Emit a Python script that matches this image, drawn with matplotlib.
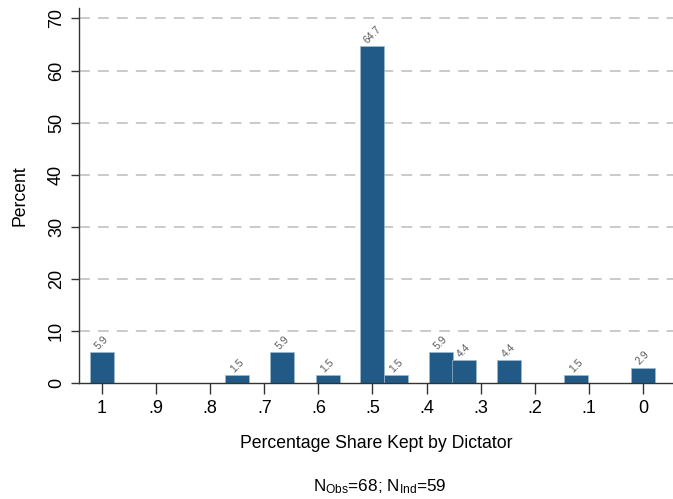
import matplotlib
matplotlib.use("Agg")
import matplotlib.pyplot as plt

plt.rcParams['font.family'] = ['Liberation Sans', 'DejaVu Sans']
plt.rcParams['mathtext.fontset'] = 'custom'
plt.rcParams['mathtext.rm'] = 'Liberation Sans'
plt.rcParams['mathtext.it'] = 'Liberation Sans'

# data
share_kept = [1.0, 0.75, 0.667, 0.583, 0.5, 0.456, 0.374, 0.331, 0.248, 0.124, 0.0]
percent = [5.9, 1.5, 5.9, 1.5, 64.7, 1.5, 5.9, 4.4, 4.4, 1.5, 2.9]
xticks = [1, 0.9, 0.8, 0.7, 0.6, 0.5, 0.4, 0.3, 0.2, 0.1, 0]
xticklabels = ['1', '.9', '.8', '.7', '.6', '.5', '.4', '.3', '.2', '.1', '0']
yticks = [0, 10, 20, 30, 40, 50, 60, 70]

bar_w = 0.0444
color = '#215a86'

fig = plt.figure(figsize=(6.73, 4.99), dpi=100)
ax = fig.add_axes([79/673, (499-383)/499, 1 - 79/673, (383-8)/499])

for g in yticks[1:]:
    ax.axhline(g, color='#c6c6c6', lw=1.3, ls=(0, (6, 4.5)), zorder=0)

ax.bar(share_kept, percent, width=bar_w, color=color, edgecolor='#9fb8cc',
       linewidth=0.5, zorder=2)
for x, v in zip(share_kept, percent):
    ax.text(x, v + 0.2, f'{v:.1f}', rotation=45, ha='center', va='bottom',
            fontsize=7.5, color='#5a5a5a', zorder=3)

ax.set_xlim(1.0426, -0.0556)
ax.set_ylim(0, 72)
ax.set_xticks(xticks)
ax.set_xticklabels(xticklabels, fontsize=13)
ax.set_yticks(yticks)
ax.set_yticklabels([str(y) for y in yticks], fontsize=13, rotation=90, va='center')
ax.tick_params(axis='x', length=8, width=1, color='#333333', pad=4)
ax.tick_params(axis='y', length=6, width=1, color='#333333', pad=4)

for s in ['top', 'right']:
    ax.spines[s].set_visible(False)
for s in ['left', 'bottom']:
    ax.spines[s].set_color('#333333')
    ax.spines[s].set_linewidth(1)

ax.set_ylabel('Percent', fontsize=12.7, labelpad=14)
ax.set_xlabel('Percentage Share Kept by Dictator', fontsize=12.7, labelpad=13)

fig.text(380/673, 1 - 487/499, r'N$_{\mathrm{Obs}}$=68; N$_{\mathrm{Ind}}$=59',
         ha='center', va='center', fontsize=12.3)

fig.savefig('out.png', dpi=100)
